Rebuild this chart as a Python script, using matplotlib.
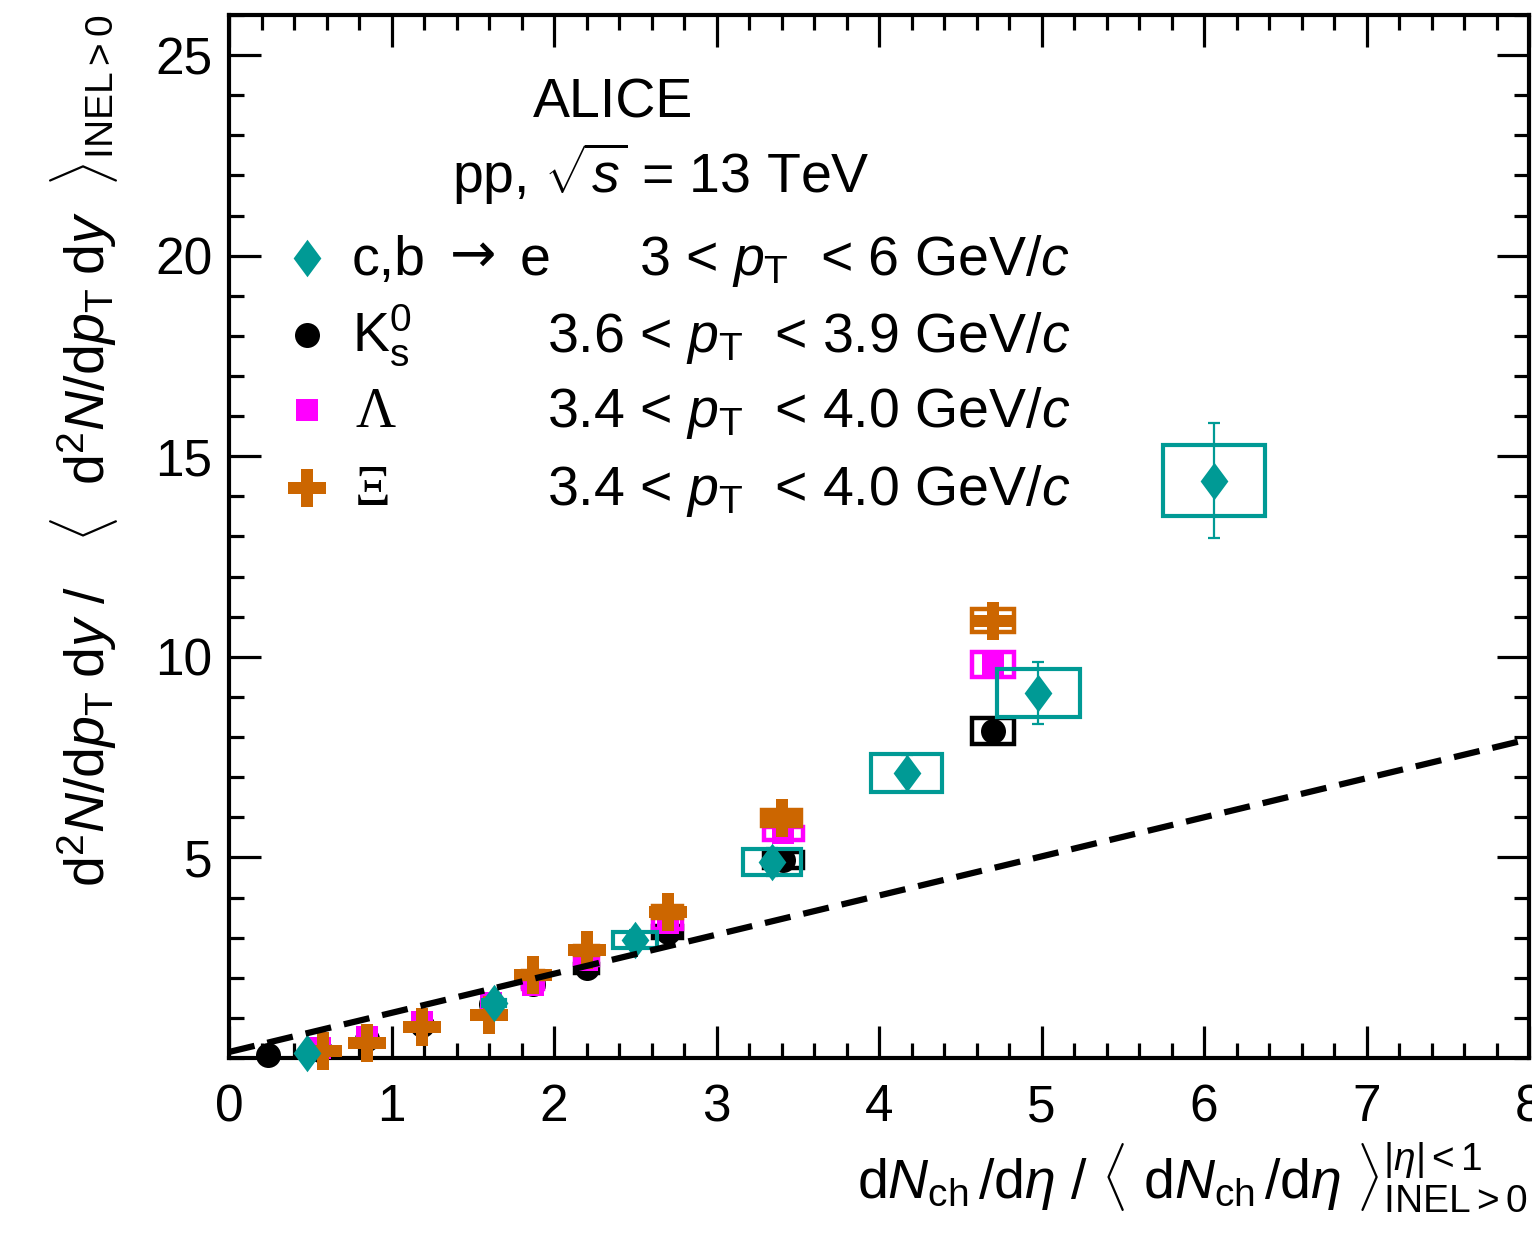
import matplotlib
matplotlib.use("Agg")
import matplotlib.pyplot as plt
from matplotlib.patches import Rectangle
from matplotlib.ticker import MultipleLocator

plt.rcParams['font.family'] = ['Liberation Sans', 'DejaVu Sans']
plt.rcParams['mathtext.fontset'] = 'custom'
plt.rcParams['mathtext.rm'] = 'Liberation Sans'
plt.rcParams['mathtext.it'] = 'Liberation Sans:italic'
plt.rcParams['mathtext.bf'] = 'Liberation Sans:bold'
plt.rcParams['mathtext.sf'] = 'Liberation Sans'

# ---- data ----
# c,b -> e  (heavy-flavour decay electrons)
hfe_x = [0.48, 1.63, 2.50, 3.34, 4.17, 4.98, 6.06]
hfe_y = [0.12, 1.37, 2.94, 4.89, 7.11, 9.10, 14.39]
hfe_stat = [0.05, 0.15, 0.25, 0.35, 0.45, 0.78, 1.43]
hfe_sys = [0.03, 0.08, 0.19, 0.33, 0.47, 0.59, 0.89]
hfe_xsys = [0.03, 0.07, 0.135, 0.18, 0.22, 0.255, 0.315]

# K0s
k0_x = [0.24, 0.56, 0.85, 1.19, 1.61, 1.87, 2.20, 2.70, 3.41, 4.70]
k0_y = [0.07, 0.20, 0.47, 0.82, 1.35, 1.85, 2.24, 3.14, 4.93, 8.15]
k0_sys = [0.01, 0.02, 0.03, 0.05, 0.07, 0.09, 0.11, 0.15, 0.20, 0.33]
k0_xsys = [0.01, 0.02, 0.03, 0.04, 0.05, 0.06, 0.07, 0.09, 0.12, 0.13]

# Lambda
lam_x = [0.56, 0.85, 1.19, 1.61, 1.87, 2.20, 2.70, 3.41, 4.70]
lam_y = [0.25, 0.52, 0.90, 1.38, 1.82, 2.44, 3.37, 5.60, 9.82]
lam_sys = [0.02, 0.03, 0.05, 0.07, 0.09, 0.11, 0.15, 0.17, 0.31]
lam_xsys = [0.02, 0.03, 0.04, 0.05, 0.06, 0.07, 0.09, 0.12, 0.13]

# Xi
xi_x = [0.58, 0.85, 1.19, 1.60, 1.87, 2.20, 2.70, 3.40, 4.70]
xi_y = [0.18, 0.37, 0.78, 1.07, 2.07, 2.69, 3.64, 5.98, 10.90]
xi_sys = [0.02, 0.03, 0.05, 0.07, 0.09, 0.11, 0.15, 0.20, 0.29]
xi_xsys = [0.02, 0.03, 0.04, 0.05, 0.06, 0.07, 0.09, 0.12, 0.13]

# linear reference
line_x = [0.0, 8.0]
line_y = [0.15, 7.95]

legend_labels = [("c,b", "→", "e"), r"K$^{0}_{\mathrm{s}}$", "Λ", "Ξ"]
legend_ranges = [r"3 < $p_{\mathrm{T}}$  < 6 GeV/$c$",
                 r"3.6 < $p_{\mathrm{T}}$  < 3.9 GeV/$c$",
                 r"3.4 < $p_{\mathrm{T}}$  < 4.0 GeV/$c$",
                 r"3.4 < $p_{\mathrm{T}}$  < 4.0 GeV/$c$"]

TEAL = "#009a95"
ORANGE = "#cc6600"
MAGENTA = "#ff00ff"
BLACK = "#000000"

W, H = 1532, 1234
def fx(px):
    return px / W
def fy(py):
    return 1 - py / H

fig = plt.figure(figsize=(W / 100, H / 100), dpi=100)
ax = fig.add_axes([fx(229), fy(1058), fx(1529) - fx(229), fy(15) - fy(1058)])

ax.set_xlim(0, 8)
ax.set_ylim(0, 26)

diamond = [(0, 1), (0.74, 0), (0, -1), (-0.74, 0), (0, 1)]

def sys_boxes(xs, ys, xe, ye, color, z, lw=3.2):
    for x, y, dx, dy in zip(xs, ys, xe, ye):
        ax.add_patch(Rectangle((x - dx, y - dy), 2 * dx, 2 * dy, fill=False,
                               edgecolor=color, lw=lw, zorder=z, clip_on=False))

# K0s
sys_boxes(k0_x, k0_y, k0_xsys, k0_sys, BLACK, 2)
ax.plot(k0_x, k0_y, "o", color=BLACK, ms=18, mew=0, zorder=2.1, clip_on=False)
# Lambda
sys_boxes(lam_x, lam_y, lam_xsys, lam_sys, MAGENTA, 3)
ax.plot(lam_x, lam_y, "s", color=MAGENTA, ms=16, mew=0, zorder=3.1, clip_on=False)
# Xi
sys_boxes(xi_x, xi_y, xi_xsys, xi_sys, ORANGE, 4)
ax.plot(xi_x, xi_y, "P", color=ORANGE, ms=27, mew=0, zorder=4.1, clip_on=False)
# HFE
sys_boxes(hfe_x, hfe_y, hfe_xsys, hfe_sys, TEAL, 5, lw=3.0)
ax.errorbar(hfe_x, hfe_y, yerr=hfe_stat, fmt="none", ecolor=TEAL, elinewidth=1.6,
            capsize=4, capthick=1.6, zorder=5.05)
ax.plot(hfe_x, hfe_y, marker=diamond, ls="none", color=TEAL, ms=27, mew=0,
        zorder=5.1, clip_on=False)

# reference line
ax.plot(line_x, line_y, color="black", lw=4.5, ls=(0, (4.2, 2.1)), zorder=10)

# axes style (ROOT-like)
for sp in ax.spines.values():
    sp.set_linewidth(3)
ax.xaxis.set_major_locator(MultipleLocator(1))
ax.xaxis.set_minor_locator(MultipleLocator(0.2))
ax.set_yticks([5, 10, 15, 20, 25])
ax.yaxis.set_minor_locator(MultipleLocator(1))
ax.tick_params(which="both", direction="in", top=True, right=True, width=2.3)
ax.tick_params(which="major", length=23)
ax.tick_params(which="minor", length=11)
ax.tick_params(axis="x", which="major", labelsize=37, pad=18)
ax.tick_params(axis="y", which="major", labelsize=37, pad=12)

# axis titles
fig.text(fx(1528), fy(1198),
         r"d$N_{\mathrm{ch}}\,$/d$\eta$ / $\langle$ d$N_{\mathrm{ch}}\,$/d$\eta$ "
         r"$\rangle^{|\eta|<1}_{\mathrm{INEL}>0}$",
         fontsize=40, ha="right", va="baseline")
fig.text(fx(105), fy(15),
         r"d$^{2}N$/d$p_{\mathrm{T}}\;$d$y$ /   $\langle$  d$^{2}N$/d$p_{\mathrm{T}}\;$d$y$  "
         r"$\rangle_{\mathrm{INEL}>0}$",
         fontsize=40, rotation=90, rotation_mode="anchor", ha="right", va="baseline")

# header texts
fig.text(fx(533), fy(117), "ALICE", fontsize=40, ha="left", va="baseline")
fig.text(fx(452), fy(193), r"pp, $\sqrt{s}$ = 13 TeV", fontsize=40, ha="left",
         va="baseline")

# legend
row_y = [258, 335, 410, 488]
leg_markers = [dict(marker=diamond, color=TEAL, ms=27),
               dict(marker="o", color=BLACK, ms=18),
               dict(marker="s", color=MAGENTA, ms=16),
               dict(marker="P", color=ORANGE, ms=27)]
for i, py in enumerate(row_y):
    ax.plot([fx(307)], [fy(py)], ls="none", mew=0, transform=fig.transFigure,
            clip_on=False, **leg_markers[i])
    lab = legend_labels[i]
    if isinstance(lab, tuple):
        fig.text(fx(352), fy(py + 17), lab[0], fontsize=40, ha="left", va="baseline")
        fig.text(fx(450), fy(py + 14), lab[1], fontsize=40, family="DejaVu Sans",
                 ha="left", va="baseline")
        fig.text(fx(520), fy(py + 17), lab[2], fontsize=40, ha="left", va="baseline")
    elif lab in ("Λ", "Ξ"):
        fig.text(fx(355), fy(py + 17), lab, fontsize=40,
                 family="Liberation Serif", ha="left", va="baseline")
    else:
        fig.text(fx(352), fy(py + 17), lab, fontsize=40, ha="left", va="baseline")
    fig.text(fx(1070), fy(py + 17), legend_ranges[i], fontsize=40,
             ha="right", va="baseline")

fig.savefig("out.png", dpi=100)
